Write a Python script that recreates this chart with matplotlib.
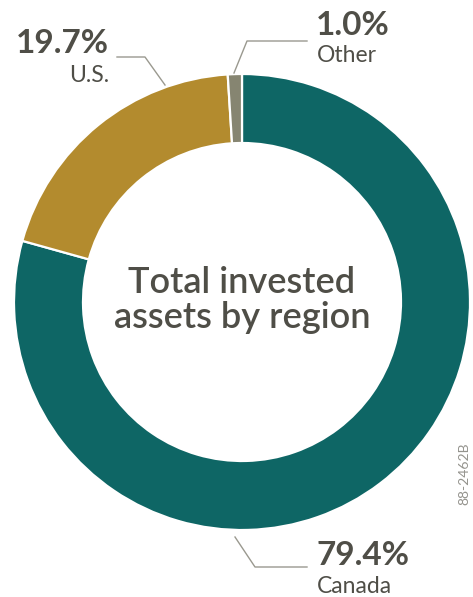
import matplotlib

matplotlib.use("Agg")
import matplotlib.pyplot as plt

# data
regions = ["Canada", "U.S.", "Other"]
shares = [79.4, 19.7, 1.0]
pct_labels = ["79.4%", "19.7%", "1.0%"]
colors = ["#0e6665", "#b38b2e", "#868571"]

W, H = 473, 597
TXT = "#4f4e47"
LINE = "#9a998f"
FONT = "Lato"

fig = plt.figure(figsize=(W / 100, H / 100), dpi=100)
ax = fig.add_axes([0, 0, 1, 1])

cx, cy, r = 242, H - 302, 228
ax.pie(
    shares,
    colors=colors,
    startangle=90,
    counterclock=False,
    center=(cx, cy),
    radius=r,
    wedgeprops=dict(width=69, edgecolor="white", linewidth=1.6),
)
ax.set_xlim(0, W)
ax.set_ylim(0, H)
ax.set_aspect("auto")
ax.axis("off")


def y(v):
    return H - v


# center title
ax.text(cx, y(300), "Total invested\nassets by region", ha="center", va="center",
        fontsize=26, fontweight="semibold", color=TXT, family=FONT, linespacing=1.05)

# U.S. label (right aligned)
ax.text(109, y(53), pct_labels[1], ha="right", va="baseline", fontsize=24,
        fontweight="bold", color=TXT, family=FONT)
ax.text(109, y(82), regions[1], ha="right", va="baseline", fontsize=16.5,
        color=TXT, family=FONT)
ax.plot([117, 145, 165], [y(57), y(57), y(85)], color=LINE, lw=1)

# Other label
ax.text(316, y(35), pct_labels[2], ha="left", va="baseline", fontsize=24,
        fontweight="bold", color=TXT, family=FONT)
ax.text(317, y(62), regions[2], ha="left", va="baseline", fontsize=16.5,
        color=TXT, family=FONT)
ax.plot([234, 247, 307], [y(73), y(41), y(41)], color=LINE, lw=1)

# Canada label
ax.text(316, y(565), pct_labels[0], ha="left", va="baseline", fontsize=24,
        fontweight="bold", color=TXT, family=FONT)
ax.text(317, y(593), regions[0], ha="left", va="baseline", fontsize=16.5,
        color=TXT, family=FONT)
ax.plot([235, 255, 307], [y(537), y(567), y(567)], color=LINE, lw=1)

# figure id
ax.text(464, y(474), "88-2462B", ha="center", va="center", rotation=90,
        fontsize=10, color="#94938d", family=FONT)

fig.savefig("out.png", dpi=100)
